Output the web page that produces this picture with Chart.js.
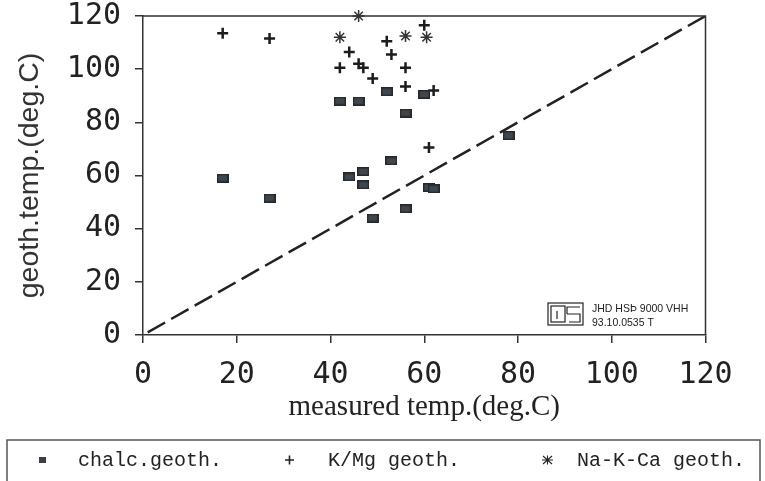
<!DOCTYPE html>
<html>
<head>
<meta charset="utf-8">
<title>geothermometers vs measured temperature</title>
<script src="https://cdn.jsdelivr.net/npm/chart.js@4.4.1/dist/chart.umd.min.js"></script>
<style>
  html, body { margin: 0; padding: 0; background: #fff; }
  #wrap { width: 765px; height: 481px; }
</style>
</head>
<body>
<div id="wrap"><canvas id="geoChart" width="765" height="481"></canvas></div>
<script>
// measured temperature (x) against geothermometer temperature (y), deg.C
const chalcMeasured = [17, 27, 42, 46, 52, 60, 56, 53, 44, 47, 47, 61, 62, 56, 49, 78];
const chalcGeoth    = [59, 51.5, 88, 88, 91.5, 90.5, 83.5, 65.5, 59.5, 61.5, 56.5, 55.5, 55, 47.5, 44, 75];

const kmgMeasured = [17, 27, 60, 52, 44, 53, 42, 46, 47, 56, 49, 56, 62, 61];
const kmgGeoth    = [113.5, 111.5, 116.5, 110.5, 106.5, 105.5, 100.5, 102, 100.5, 100.5, 96.5, 93.5, 92, 70.5];

const nakcaMeasured = [46, 42, 56, 60.5];
const nakcaGeoth    = [120, 112, 112.5, 112];

// 1:1 reference line
const equalLine = [1, 120];

const seriesLabels = ['chalc.geoth.', 'K/Mg geoth.', 'Na-K-Ca geoth.'];

const ink = '#222';

function toPoints(xs, ys) {
    return xs.map((x, i) => ({ x: x, y: ys[i] }));
}

// filled block used for the chalcedony points
function blockMarker(w, h) {
    const c = document.createElement('canvas');
    c.width = w;
    c.height = h;
    const g = c.getContext('2d');
    g.fillStyle = '#25292c';
    g.fillRect(0, 0, w, h);
    g.fillStyle = '#40474c';
    g.fillRect(1.5, 1.5, w - 3, h - 3);
    return c;
}

// plot frame (top and right sides) plus the JHD stamp
const framePlugin = {
    id: 'frame',
    afterDraw(chart) {
        const { ctx, chartArea: a } = chart;
        ctx.save();
        ctx.strokeStyle = '#333';
        ctx.lineWidth = 1.5;
        ctx.beginPath();
        ctx.moveTo(a.left, a.top);
        ctx.lineTo(a.right, a.top);
        ctx.lineTo(a.right, a.bottom);
        ctx.stroke();

        // stamp logo
        ctx.lineWidth = 1.2;
        ctx.strokeStyle = '#222';
        ctx.strokeRect(548, 303, 35, 22);
        ctx.strokeRect(551, 306, 14, 16);
        ctx.beginPath();
        ctx.moveTo(557, 311); ctx.lineTo(557, 319);
        ctx.moveTo(580, 307); ctx.lineTo(567, 307); ctx.lineTo(567, 314);
        ctx.moveTo(567, 314); ctx.lineTo(580, 314); ctx.lineTo(580, 322); ctx.lineTo(569, 322);
        ctx.stroke();

        ctx.fillStyle = '#222';
        ctx.font = '10.5px "Liberation Sans"';
        ctx.textBaseline = 'middle';
        ctx.textAlign = 'left';
        ctx.fillText('JHD HSÞ 9000 VHH', 592, 309);
        ctx.fillText('93.10.0535 T', 592, 323);
        ctx.restore();
    }
};

// boxed legend strip under the axis title
const legendBoxPlugin = {
    id: 'legendBox',
    afterDraw(chart) {
        const ctx = chart.ctx;
        const y = 461;
        ctx.save();
        ctx.strokeStyle = '#555';
        ctx.lineWidth = 1.5;
        ctx.strokeRect(7, 440, 753, 60);

        ctx.strokeStyle = ink;
        // block
        ctx.fillStyle = '#3a4045';
        ctx.fillRect(39, y - 4, 7, 6);
        // plus
        ctx.lineWidth = 1.6;
        ctx.beginPath();
        ctx.moveTo(285, y - 1); ctx.lineTo(294, y - 1);
        ctx.moveTo(289.5, y - 5.5); ctx.lineTo(289.5, y + 3.5);
        ctx.stroke();
        // asterisk
        ctx.lineWidth = 1.1;
        ctx.beginPath();
        ctx.moveTo(543, y - 5); ctx.lineTo(552, y + 3);
        ctx.moveTo(552, y - 5); ctx.lineTo(543, y + 3);
        ctx.moveTo(542, y - 1); ctx.lineTo(553, y - 1);
        ctx.moveTo(547.5, y - 5.5); ctx.lineTo(547.5, y + 3.5);
        ctx.stroke();

        ctx.fillStyle = ink;
        ctx.font = '20px "Liberation Mono"';
        ctx.textBaseline = 'middle';
        ctx.textAlign = 'left';
        const textX = [78, 328, 577];
        seriesLabels.forEach((label, i) => ctx.fillText(label, textX[i], y));
        ctx.restore();
    }
};

const tickFont = { family: '"DejaVu Sans Mono"', size: 30 };

const ctx = document.getElementById('geoChart').getContext('2d');
const geoChart = new Chart(ctx, {
    type: 'scatter',
    data: {
        datasets: [
            {
                label: seriesLabels[0],
                data: toPoints(chalcMeasured, chalcGeoth),
                pointStyle: blockMarker(12, 9),
                pointRadius: 6,
                clip: false
            },
            {
                label: seriesLabels[1],
                data: toPoints(kmgMeasured, kmgGeoth),
                pointStyle: 'cross',
                pointRadius: 5.5,
                pointBorderWidth: 2.5,
                borderColor: '#1c1c1c',
                backgroundColor: '#1c1c1c',
                clip: false
            },
            {
                label: seriesLabels[2],
                data: toPoints(nakcaMeasured, nakcaGeoth),
                pointStyle: 'star',
                pointRadius: 6,
                pointBorderWidth: 1.5,
                borderColor: '#333',
                backgroundColor: '#333',
                clip: false
            },
            {
                label: '1:1',
                type: 'line',
                data: toPoints(equalLine, equalLine),
                borderColor: ink,
                borderWidth: 2.5,
                borderDash: [20, 7],
                pointRadius: 0,
                fill: false
            }
        ]
    },
    options: {
        responsive: false,
        animation: false,
        layout: { padding: { left: 0, right: 59.5, top: 16, bottom: 56 } },
        plugins: {
            legend: { display: false },
            tooltip: { enabled: false }
        },
        scales: {
            x: {
                type: 'linear',
                min: 0,
                max: 120,
                afterFit(scale) {
                    scale.height = 90;
                    scale.paddingLeft = 0;
                    scale.paddingRight = 0;
                },
                ticks: { stepSize: 20, font: tickFont, color: ink, padding: 14, maxRotation: 0 },
                grid: { drawOnChartArea: false, tickLength: 8, color: '#333', lineWidth: 1.5 },
                border: { color: '#333', width: 1.5 },
                title: {
                    display: true,
                    text: 'measured temp.(deg.C)',
                    font: { family: '"Liberation Serif"', size: 29 },
                    color: ink,
                    padding: 0
                }
            },
            y: {
                type: 'linear',
                min: 0,
                max: 120,
                afterFit(scale) {
                    scale.width = 143;
                    scale.paddingTop = 0;
                    scale.paddingBottom = 0;
                },
                ticks: { stepSize: 20, font: tickFont, color: ink, padding: 14 },
                grid: { drawOnChartArea: false, tickLength: 8, color: '#333', lineWidth: 1.5 },
                border: { color: '#333', width: 1.5 },
                title: {
                    display: true,
                    text: 'geoth.temp.(deg.C)',
                    font: { family: '"Liberation Sans"', size: 28.5 },
                    color: '#333',
                    padding: { top: 13, bottom: 0 }
                }
            }
        }
    },
    plugins: [framePlugin, legendBoxPlugin]
});
</script>
</body>
</html>
